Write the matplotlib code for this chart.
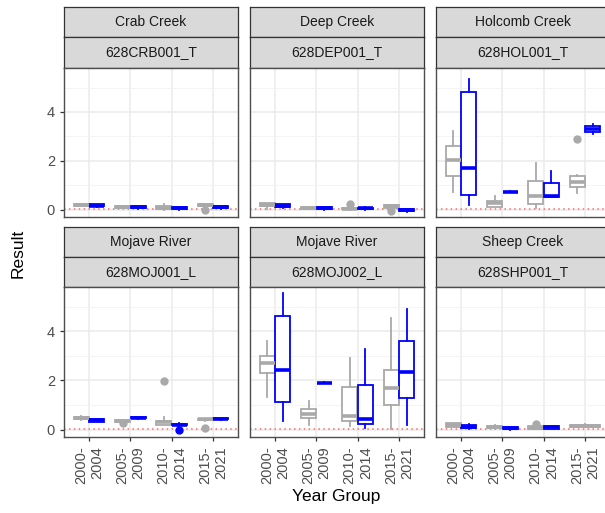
import matplotlib
matplotlib.use("Agg")
import matplotlib.pyplot as plt

plt.rcParams["font.family"] = ["Liberation Sans", "DejaVu Sans"]

# ---- data ----
year_groups = ["2000-\n2004", "2005-\n2009", "2010-\n2014", "2015-\n2021"]
site_names = ["Crab Creek", "Deep Creek", "Holcomb Creek",
              "Mojave River", "Mojave River", "Sheep Creek"]
station_codes = ["628CRB001_T", "628DEP001_T", "628HOL001_T",
                 "628MOJ001_L", "628MOJ002_L", "628SHP001_T"]

# five-number summaries per year group: [whisker low, q1, median, q3, whisker high]
crb_gray = [[0.17, 0.17, 0.20, 0.24, 0.24], [0.05, 0.06, 0.10, 0.14, 0.16],
            [0.00, 0.02, 0.08, 0.13, 0.24], [0.05, 0.14, 0.18, 0.22, 0.24]]
crb_blue = [[0.11, 0.13, 0.17, 0.22, 0.24], [0.04, 0.06, 0.10, 0.14, 0.16],
            [0.00, 0.02, 0.07, 0.10, 0.11], [0.03, 0.06, 0.10, 0.14, 0.16]]
dep_gray = [[0.02, 0.16, 0.20, 0.26, 0.27], [0.02, 0.04, 0.07, 0.10, 0.12],
            [0.00, 0.01, 0.03, 0.06, 0.08], [0.00, 0.08, 0.14, 0.18, 0.18]]
dep_blue = [[0.05, 0.10, 0.15, 0.22, 0.23], [0.00, 0.02, 0.05, 0.09, 0.10],
            [0.00, 0.02, 0.05, 0.08, 0.09], [-0.08, -0.06, -0.02, 0.02, 0.03]]
hol_gray = [[0.72, 1.36, 2.04, 2.62, 3.22], [0.10, 0.12, 0.27, 0.34, 0.54],
            [0.08, 0.23, 0.54, 1.16, 1.90], [0.68, 0.91, 1.12, 1.39, 1.43]]
hol_blue = [[0.18, 0.60, 1.71, 4.83, 5.35], [0.71, 0.72, 0.73, 0.74, 0.75],
            [0.50, 0.52, 0.54, 1.09, 1.60], [3.10, 3.17, 3.29, 3.43, 3.50]]
moj1_gray = [[0.40, 0.42, 0.47, 0.52, 0.55], [0.33, 0.33, 0.36, 0.40, 0.40],
             [0.19, 0.20, 0.30, 0.37, 0.50], [0.37, 0.38, 0.42, 0.45, 0.45]]
moj1_blue = [[0.30, 0.32, 0.38, 0.43, 0.44], [0.45, 0.46, 0.49, 0.52, 0.52],
             [0.05, 0.17, 0.20, 0.24, 0.25], [0.41, 0.42, 0.44, 0.46, 0.46]]
moj2_gray = [[1.32, 2.31, 2.72, 2.99, 3.60], [0.20, 0.46, 0.64, 0.83, 1.16],
             [0.16, 0.34, 0.57, 1.73, 2.93], [0.03, 1.01, 1.70, 2.44, 4.52]]
moj2_blue = [[0.34, 1.14, 2.41, 4.63, 5.54], [1.88, 1.89, 1.90, 1.91, 1.92],
             [0.07, 0.23, 0.44, 1.82, 3.27], [0.20, 1.28, 2.33, 3.62, 4.91]]
shp_gray = [[0.11, 0.12, 0.20, 0.26, 0.27], [0.04, 0.05, 0.10, 0.16, 0.17],
            [0.02, 0.03, 0.08, 0.14, 0.15], [0.10, 0.11, 0.15, 0.20, 0.21]]
shp_blue = [[0.04, 0.05, 0.12, 0.20, 0.22], [0.00, 0.01, 0.05, 0.09, 0.10],
            [0.03, 0.04, 0.10, 0.14, 0.15], None]

# outliers per year group
crb_gray_out = [[], [], [], [0.0]]
dep_gray_out = [[], [], [0.23], [-0.05]]
hol_gray_out = [[], [], [], [2.9]]
moj1_gray_out = [[], [0.27], [1.96], [0.05]]
moj1_blue_out = [[], [], [0.0], []]
shp_gray_out = [[], [], [0.22], []]
no_out = [[], [], [], []]

gray_all = [crb_gray, dep_gray, hol_gray, moj1_gray, moj2_gray, shp_gray]
blue_all = [crb_blue, dep_blue, hol_blue, moj1_blue, moj2_blue, shp_blue]
gray_out_all = [crb_gray_out, dep_gray_out, hol_gray_out, moj1_gray_out, no_out, shp_gray_out]
blue_out_all = [no_out, no_out, no_out, moj1_blue_out, no_out, no_out]

ref_line = 0.02

GRAY = "#A9A9A9"
BLUE = "#0000FF"

# ---- layout in pixels ----
W, H = 605, 513
fig = plt.figure(figsize=(W / 100, H / 100), dpi=100)


def rect(x0, y0, x1, y1):
    return [x0 / W, 1 - y1 / H, (x1 - x0) / W, (y1 - y0) / H]


cols = [(64, 238), (250, 424), (436, 610)]
rows = [dict(s1=(7, 37), s2=(37, 68), p=(68, 217)),
        dict(s1=(227, 257), s2=(257, 287), p=(287, 437))]


def make_stats(s, fl):
    return dict(whislo=s[0], q1=s[1], med=s[2], q3=s[3], whishi=s[4], fliers=fl)


def draw_boxes(ax, stats_list, outs, color, offset, width):
    st, pos = [], []
    for i, s in enumerate(stats_list):
        if s is None:
            continue
        st.append(make_stats(s, outs[i]))
        pos.append(i + 1 + offset)
    ax.bxp(st, positions=pos, widths=width, patch_artist=True, showcaps=False,
           boxprops=dict(facecolor="white", edgecolor=color, linewidth=1.3),
           whiskerprops=dict(color=color, linewidth=1.3),
           medianprops=dict(color=color, linewidth=2.6, solid_capstyle="butt"),
           flierprops=dict(marker="o", markerfacecolor=color, markeredgecolor=color,
                           markersize=5),
           manage_ticks=False, zorder=3)


for k in range(6):
    r, c = divmod(k, 3)
    x0, x1 = cols[c]
    lay = rows[r]

    for key, label in (("s1", site_names[k]), ("s2", station_codes[k])):
        sax = fig.add_axes(rect(x0, lay[key][0], x1, lay[key][1]))
        sax.set_facecolor("#D9D9D9")
        sax.set_xticks([])
        sax.set_yticks([])
        for sp in sax.spines.values():
            sp.set_color("#333333")
            sp.set_linewidth(0.9)
        sax.text(0.5, 0.5, label, ha="center", va="center", fontsize=10,
                 color="#1A1A1A", transform=sax.transAxes)

    ax = fig.add_axes(rect(x0, lay["p"][0], x1, lay["p"][1]))
    ax.set_xlim(0.4, 4.6)
    ax.set_ylim(-0.3, 5.8)
    ax.set_xticks(range(1, 5))
    ax.set_yticks([0, 2, 4])
    ax.set_yticks([1, 3, 5], minor=True)
    ax.grid(True, which="major", color="#EBEBEB", linewidth=1.1, zorder=0)
    ax.grid(True, which="minor", axis="y", color="#F3F3F3", linewidth=0.6, zorder=0)
    ax.set_axisbelow(True)
    for sp in ax.spines.values():
        sp.set_color("#4D4D4D")
        sp.set_linewidth(1.0)

    ax.axhline(ref_line, color="#FF5050", linestyle=(0, (1, 2.2)), linewidth=1.1,
               alpha=0.85, zorder=2)

    blue = blue_all[k]
    gray = gray_all[k]
    # gray and blue dodged; a lone box takes the full width
    gray_single = [g if b is None else None for g, b in zip(gray, blue)]
    gray_pair = [g if b is not None else None for g, b in zip(gray, blue)]
    draw_boxes(ax, gray_pair, gray_out_all[k], GRAY, -0.1875, 0.36)
    if any(g is not None for g in gray_single):
        draw_boxes(ax, gray_single, gray_out_all[k], GRAY, 0.0, 0.72)
    draw_boxes(ax, blue, blue_out_all[k], BLUE, 0.1875, 0.36)

    ax.tick_params(which="both", colors="#333333", length=3, width=0.9,
                   labelcolor="#4D4D4D", labelsize=10.5)
    ax.tick_params(which="minor", length=0)
    if c != 0:
        ax.tick_params(axis="y", left=False, labelleft=False)
    if r == 0:
        ax.tick_params(axis="x", bottom=False, labelbottom=False)
    else:
        ax.set_xticklabels(year_groups, rotation=90, ha="center", va="top",
                           multialignment="right")

fig.text(18 / W, 1 - 253 / H, "Result", rotation=90, ha="center", va="center",
         fontsize=12.5, color="black")
fig.text(336 / W, 1 - 497 / H, "Year Group", ha="center", va="center",
         fontsize=12.5, color="black")

fig.savefig("out.png", dpi=100)
